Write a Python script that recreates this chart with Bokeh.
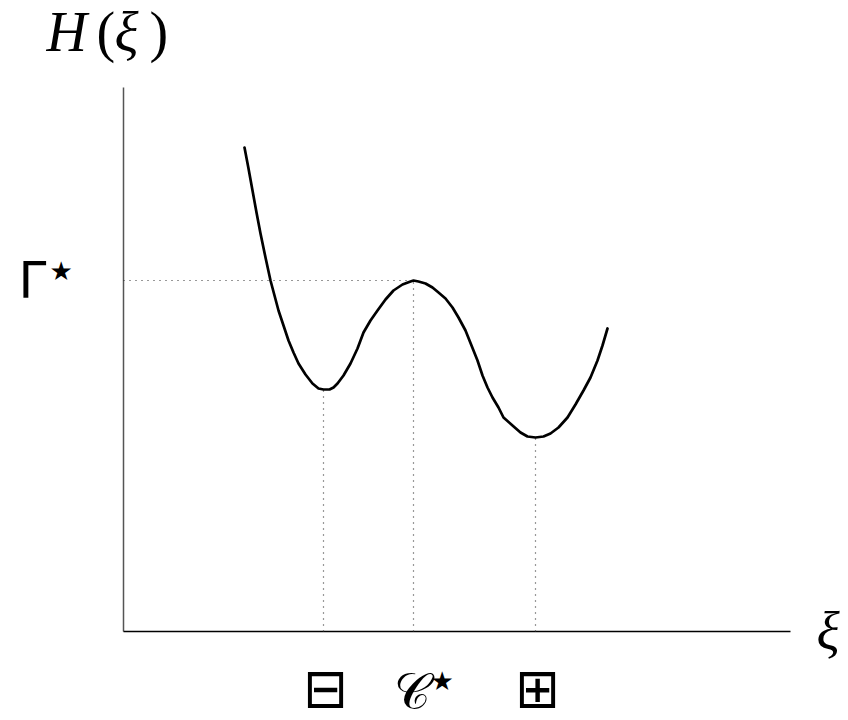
from bokeh.plotting import figure
from bokeh.models import Range1d
from bokeh.core.properties import value
from bokeh.embed import file_html
from bokeh.resources import INLINE

# Energy landscape H(xi), sampled along the reaction coordinate
xi = [12.1, 12.5, 12.9, 13.3, 13.7, 14.2, 14.7, 15.1, 15.5, 16.0, 16.5, 17.0,
      17.5, 18.2, 18.9, 19.5, 20.0, 20.6, 21.0, 21.4, 22.0, 22.7, 23.4, 24.0,
      24.7, 25.4, 26.2, 27.0, 27.9, 28.7, 29.0, 29.5, 30.2, 30.9, 31.5, 32.2,
      32.9, 33.5, 34.2, 34.8, 35.4, 35.9, 36.4, 36.9, 37.5, 38.0, 38.9, 39.7,
      40.4, 41.2, 42.0, 42.7, 43.5, 44.4, 45.2, 46.0, 46.7, 47.4, 47.9, 48.4]
H = [48.4, 46.3, 44.1, 41.9, 39.8, 37.4, 35.1, 33.6, 32.1, 30.6, 29.1, 27.9,
     26.8, 25.7, 24.8, 24.3, 24.2, 24.2, 24.4, 24.8, 25.6, 26.8, 28.3, 29.9,
     31.1, 32.1, 33.2, 34.1, 34.7, 35.0, 35.1, 35.0, 34.8, 34.4, 33.9, 33.3,
     32.4, 31.4, 30.1, 28.6, 27.1, 25.6, 24.4, 23.4, 22.4, 21.4, 20.6, 19.9,
     19.5, 19.4, 19.5, 19.8, 20.4, 21.4, 22.7, 24.1, 25.4, 27.1, 28.6, 30.3]

# Stationary points: first minimum, saddle, second minimum
mark_xi = [20.0, 29.0, 41.2]
mark_H = [24.2, 35.1, 19.4]
gamma_star = 35.1

axis_len_x = 66.7
axis_len_y = 54.4

# page layout: 1 data unit = 10 px, origin of the axes at (123, 631) px
scale = 10.0
ox, oy = 123, 631
W, HPX = 848, 720


def px(x):
    return (x - ox) / scale


def py(y):
    return (oy - y) / scale


p = figure(width=W, height=HPX, output_backend="svg", toolbar_location=None,
           x_range=Range1d(px(0), px(W)), y_range=Range1d(py(HPX), py(0)),
           min_border=0)
p.axis.visible = False
p.grid.visible = False
p.outline_line_color = None
p.background_fill_color = "white"
p.border_fill_color = "white"

# Axes drawn as plain lines
p.segment(x0=[0], y0=[0], x1=[0], y1=[axis_len_y], line_color="#555555", line_width=1.5)
p.segment(x0=[0], y0=[0], x1=[axis_len_x], y1=[0], line_color="black", line_width=1.3)

# Dotted guides
p.segment(x0=[0], y0=[gamma_star], x1=[mark_xi[1]], y1=[gamma_star],
          line_color="#333333", line_width=1.2, line_dash="1 5")
p.segment(x0=mark_xi, y0=[0, 0, 0], x1=mark_xi, y1=mark_H,
          line_color="#333333", line_width=1.2, line_dash="1 5")

# The curve
p.line(xi, H, line_color="black", line_width=2.7, line_join="round", line_cap="round")

serif = value("Liberation Serif")
sans = value("DejaVu Sans")

# H(xi) on the vertical axis
p.text(x=[px(46)], y=[py(0)], text=["H"], text_font=serif, text_font_style="italic",
       text_font_size="56px", text_baseline="top", text_align="left")
p.text(x=[px(96), px(149)], y=[py(0), py(0)], text=["(", ")"], text_font=serif,
       text_font_size="56px", text_baseline="top", text_align="left")
p.text(x=[px(114)], y=[py(0)], text=["ξ"], text_font=serif, text_font_style="italic",
       text_font_size="56px", text_baseline="top", text_align="left")

# xi on the horizontal axis
p.text(x=[px(816)], y=[py(631)], text=["ξ"], text_font=serif, text_font_style="italic",
       text_font_size="54px", text_baseline="middle", text_align="left")

# Gamma-star level
p.text(x=[px(18)], y=[py(279)], text=["Γ"], text_font=sans,
       text_font_size="50px", text_baseline="middle", text_align="left")
p.text(x=[px(49)], y=[py(270)], text=["★"], text_font=sans,
       text_font_size="26px", text_baseline="middle", text_align="left")

# Labels under the stationary points
p.text(x=[mark_xi[0] + 0.2, mark_xi[2] + 0.2], y=[py(719), py(719)], text=["⊟", "⊞"],
       text_font=sans, text_font_size="54px",
       text_baseline="bottom", text_align="center")
p.text(x=[mark_xi[1] - 0.2], y=[py(719)], text=["𝒞"], text_font=serif,
       text_font_size="50px", text_baseline="bottom", text_align="center")
p.text(x=[px(430)], y=[py(695)], text=["★"], text_font=sans,
       text_font_size="26px", text_baseline="bottom", text_align="left")

open("out.html", "w").write(file_html(p, INLINE))
